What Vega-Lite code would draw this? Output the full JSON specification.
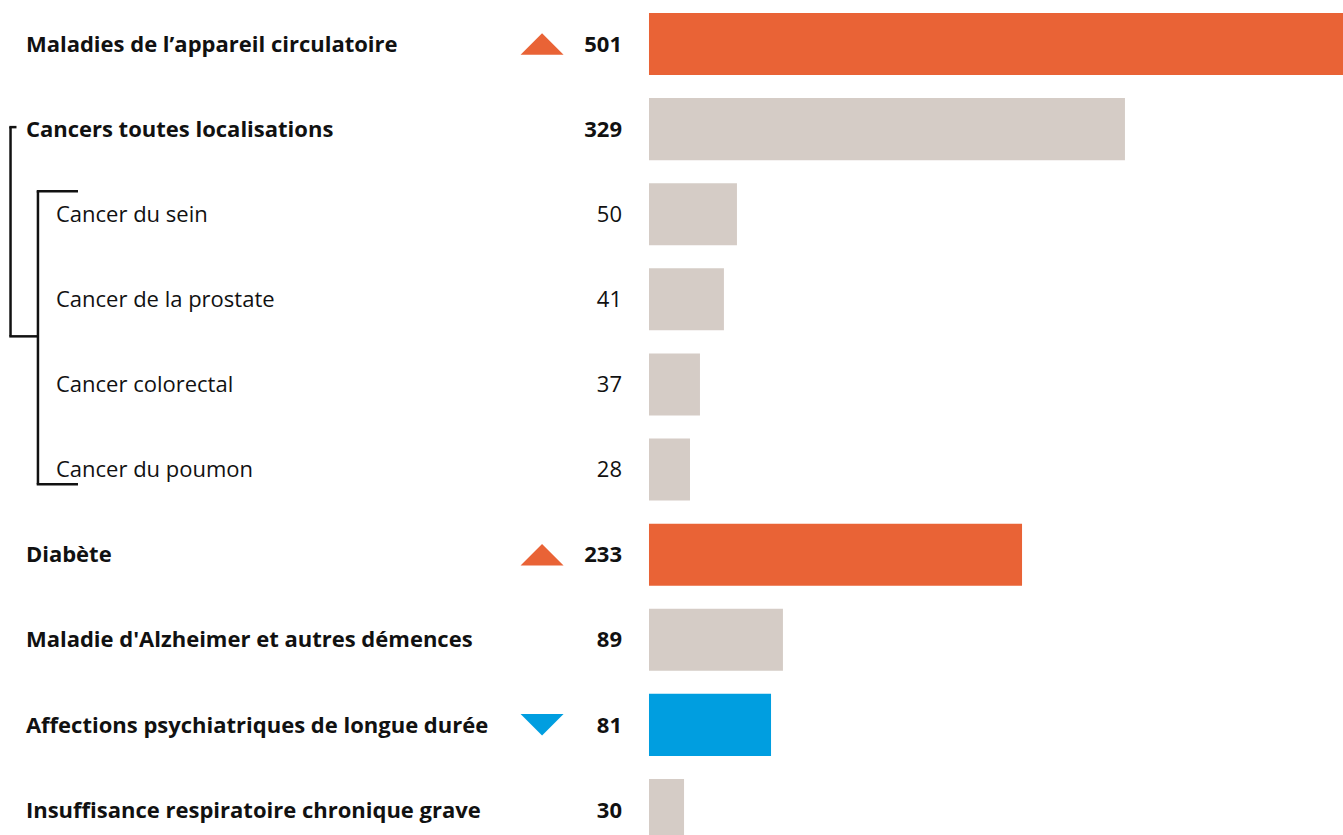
{
  "$schema": "https://vega.github.io/schema/vega-lite/v6.json",
  "width": 1343,
  "height": 835,
  "autosize": {"type": "fit", "contains": "padding"},
  "padding": 0,
  "background": "#ffffff",
  "config": {"view": {"stroke": null}},
  "datasets": {
    "pathologies": [
      {"cat": "Maladies de l’appareil circulatoire", "niveau": "principal", "valeur": 501, "barre": 501, "tendance": "hausse"},
      {"cat": "Cancers toutes localisations", "niveau": "principal", "valeur": 329, "barre": 343.6, "tendance": "stable"},
      {"cat": "Cancer du sein", "niveau": "sous", "valeur": 50, "barre": 63.5, "tendance": "stable"},
      {"cat": "Cancer de la prostate", "niveau": "sous", "valeur": 41, "barre": 54.1, "tendance": "stable"},
      {"cat": "Cancer colorectal", "niveau": "sous", "valeur": 37, "barre": 36.8, "tendance": "stable"},
      {"cat": "Cancer du poumon", "niveau": "sous", "valeur": 28, "barre": 29.6, "tendance": "stable"},
      {"cat": "Diabète", "niveau": "principal", "valeur": 233, "barre": 269.3, "tendance": "hausse"},
      {"cat": "Maladie d'Alzheimer et autres démences", "niveau": "principal", "valeur": 89, "barre": 96.7, "tendance": "stable"},
      {"cat": "Affections psychiatriques de longue durée", "niveau": "principal", "valeur": 81, "barre": 88.1, "tendance": "baisse"},
      {"cat": "Insuffisance respiratoire chronique grave", "niveau": "principal", "valeur": 30, "barre": 25.3, "tendance": "stable"}
    ],
    "groupe": [
      {"groupe": "Cancers toutes localisations", "premier": "Cancer du sein", "milieu": "Cancer de la prostate", "dernier": "Cancer du poumon"}
    ]
  },
  "data": {"name": "pathologies"},
  "layer": [
    {
      "mark": {"type": "bar"},
      "encoding": {
        "y": {
          "field": "cat", "type": "nominal", "sort": null,
          "scale": {
            "domain": ["Maladies de l’appareil circulatoire", "Cancers toutes localisations", "Cancer du sein", "Cancer de la prostate", "Cancer colorectal", "Cancer du poumon", "Diabète", "Maladie d'Alzheimer et autres démences", "Affections psychiatriques de longue durée", "Insuffisance respiratoire chronique grave"],
            "range": [13, 841], "paddingInner": 0.271, "paddingOuter": 0
          },
          "axis": null
        },
        "x": {"field": "barre", "type": "quantitative", "stack": null, "scale": {"domain": [-468.5, 501], "nice": false}, "axis": null},
        "color": {
          "field": "tendance",
          "type": "nominal",
          "scale": {"domain": ["hausse", "baisse", "stable"], "range": ["#E96336", "#009EE0", "#D5CCC6"]},
          "legend": null
        }
      }
    },
    {
      "transform": [{"filter": "datum.niveau === 'principal'"}],
      "mark": {"type": "text", "align": "left", "baseline": "alphabetic", "dy": 7.7, "font": "Open Sans", "fontSize": 22, "fontWeight": "bold", "color": "#111111"},
      "encoding": {"y": {"field": "cat", "type": "nominal", "sort": null}, "x": {"datum": -449.8, "type": "quantitative"}, "text": {"field": "cat", "type": "nominal"}}
    },
    {
      "transform": [{"filter": "datum.niveau === 'sous'"}],
      "mark": {"type": "text", "align": "left", "baseline": "alphabetic", "dy": 7.7, "font": "Open Sans", "fontSize": 22, "fontWeight": 400, "color": "#111111"},
      "encoding": {"y": {"field": "cat", "type": "nominal", "sort": null}, "x": {"datum": -428.1, "type": "quantitative"}, "text": {"field": "cat", "type": "nominal"}}
    },
    {
      "transform": [{"filter": "datum.niveau === 'principal'"}],
      "mark": {"type": "text", "align": "right", "baseline": "alphabetic", "dy": 7.7, "font": "Open Sans", "fontSize": 22, "fontWeight": "bold", "color": "#111111"},
      "encoding": {"y": {"field": "cat", "type": "nominal", "sort": null}, "x": {"datum": -19.5, "type": "quantitative"}, "text": {"field": "valeur", "type": "quantitative"}}
    },
    {
      "transform": [{"filter": "datum.niveau === 'sous'"}],
      "mark": {"type": "text", "align": "right", "baseline": "alphabetic", "dy": 7.7, "font": "Open Sans", "fontSize": 22, "fontWeight": 400, "color": "#111111"},
      "encoding": {"y": {"field": "cat", "type": "nominal", "sort": null}, "x": {"datum": -19.5, "type": "quantitative"}, "text": {"field": "valeur", "type": "quantitative"}}
    },
    {
      "transform": [{"filter": "datum.tendance !== 'stable'"}],
      "mark": {"type": "point", "filled": true, "opacity": 1, "size": 1849, "strokeWidth": 0},
      "encoding": {
        "y": {"field": "cat", "type": "nominal", "sort": null},
        "x": {"datum": -77.2, "type": "quantitative"},
        "color": {"field": "tendance", "type": "nominal"},
        "shape": {
          "field": "tendance",
          "type": "nominal",
          "scale": {"domain": ["hausse", "baisse"], "range": ["M-1,0.5L0,-0.5L1,0.5Z", "M-1,-0.5L0,0.5L1,-0.5Z"]},
          "legend": null
        }
      }
    },
    {
      "data": {"name": "groupe"},
      "mark": {"type": "rule", "color": "#111111", "strokeWidth": 2.5, "yOffset": -2, "y2Offset": 37},
      "encoding": {"x": {"datum": -460.9, "type": "quantitative"}, "y": {"field": "groupe", "type": "nominal"}, "y2": {"field": "milieu"}}
    },
    {
      "data": {"name": "groupe"},
      "mark": {"type": "rule", "color": "#111111", "strokeWidth": 2.5, "yOffset": -2},
      "encoding": {"x": {"datum": -461.8, "type": "quantitative"}, "x2": {"datum": -456.6}, "y": {"field": "groupe", "type": "nominal"}}
    },
    {
      "data": {"name": "groupe"},
      "mark": {"type": "rule", "color": "#111111", "strokeWidth": 2.5, "yOffset": 37},
      "encoding": {"x": {"datum": -461.8, "type": "quantitative"}, "x2": {"datum": -441.1}, "y": {"field": "milieu", "type": "nominal"}}
    },
    {
      "data": {"name": "groupe"},
      "mark": {"type": "rule", "color": "#111111", "strokeWidth": 2.5, "yOffset": -23, "y2Offset": 14.6},
      "encoding": {"x": {"datum": -441.1, "type": "quantitative"}, "y": {"field": "premier", "type": "nominal"}, "y2": {"field": "dernier"}}
    },
    {
      "data": {"name": "groupe"},
      "mark": {"type": "rule", "color": "#111111", "strokeWidth": 2.5, "yOffset": -23},
      "encoding": {"x": {"datum": -442.0, "type": "quantitative"}, "x2": {"datum": -412.2}, "y": {"field": "premier", "type": "nominal"}}
    },
    {
      "data": {"name": "groupe"},
      "mark": {"type": "rule", "color": "#111111", "strokeWidth": 2.5, "yOffset": 14.6},
      "encoding": {"x": {"datum": -442.0, "type": "quantitative"}, "x2": {"datum": -412.2}, "y": {"field": "dernier", "type": "nominal"}}
    }
  ]
}
